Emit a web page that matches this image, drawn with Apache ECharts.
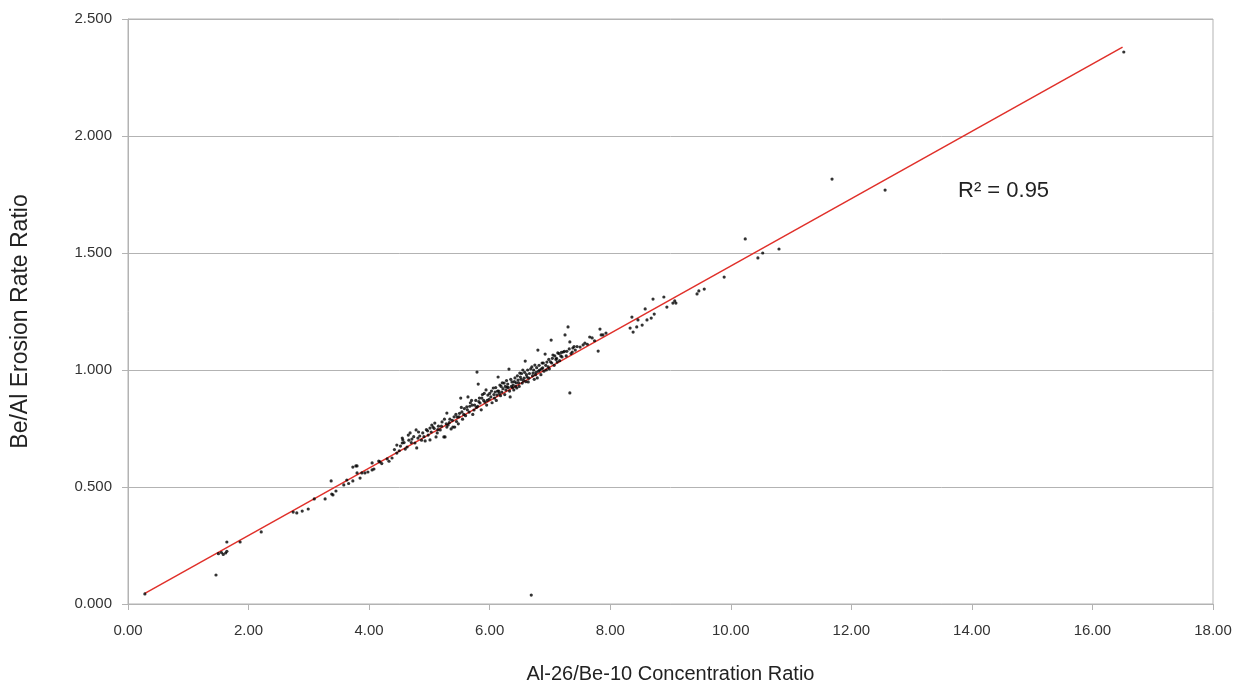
<!DOCTYPE html>
<html lang="en">

<head>
    <meta charset="UTF-8" />
    <title>Erosion ratio scatter</title>
    <script src="https://cdn.jsdelivr.net/npm/echarts@6.0.0/dist/echarts.min.js"></script>
</head>

<body style="margin:0; background:#fff;">
    <div id="main" style="width: 1246px; height: 686px;"></div>

    <script>
        // Al-26/Be-10 concentration ratio (x) and Be/Al erosion rate ratio (y)
        const alBeRatio = [
            0.28, 1.46, 1.50, 1.55, 1.58, 1.62, 1.64, 1.64, 1.86, 2.21,
            2.74, 2.80, 2.89, 2.99, 3.09, 3.27, 3.37, 3.38, 3.40, 3.45,
            3.58, 3.63, 3.66, 3.73, 3.73, 3.78, 3.80, 3.80, 3.85, 3.88,
            3.93, 3.98, 4.05, 4.05, 4.08, 4.16, 4.18, 4.21, 4.30, 4.33,
            4.38, 4.46, 4.46, 4.50, 4.55, 4.55, 4.56, 4.60, 4.63, 4.65,
            4.68, 4.70, 4.71, 4.76, 4.78, 4.79, 4.81, 4.84, 4.87, 4.89,
            4.93, 4.95, 4.98, 5.01, 5.01, 5.04, 5.06, 5.09, 5.11, 5.13,
            5.15, 5.18, 5.21, 5.24, 5.26, 5.28, 5.29, 5.29, 5.31, 5.34,
            5.36, 5.39, 5.41, 5.42, 5.45, 5.46, 5.48, 5.50, 5.52, 5.54,
            5.55, 5.58, 5.60, 5.62, 5.64, 5.66, 5.68, 5.71, 5.72, 5.74,
            5.77, 5.79, 5.80, 5.81, 5.83, 5.84, 5.86, 5.88, 5.90, 5.92,
            5.94, 5.95, 5.97, 5.99, 6.02, 6.04, 6.06, 6.08, 6.09, 6.11,
            6.12, 6.14, 6.15, 6.17, 6.18, 6.20, 6.22, 6.24, 6.25, 6.27,
            6.29, 6.30, 6.32, 6.33, 6.34, 6.36, 6.37, 6.39, 6.40, 6.42,
            6.44, 6.45, 6.47, 6.49, 6.50, 6.52, 6.54, 6.55, 6.57, 6.59,
            6.60, 6.62, 6.64, 6.66, 6.69, 6.70, 6.71, 6.72, 6.74, 6.75,
            6.77, 6.79, 6.80, 6.81, 6.83, 6.85, 6.87, 6.88, 6.90, 6.92,
            6.93, 6.95, 6.97, 6.99, 7.02, 7.03, 7.05, 7.07, 7.10, 7.12,
            7.13, 7.16, 7.18, 7.20, 7.22, 7.25, 7.27, 7.30, 7.32, 7.33,
            7.33, 7.35, 7.37, 7.38, 7.42, 7.45, 7.50, 7.55, 7.58, 7.62,
            7.66, 7.70, 7.74, 7.80, 7.83, 7.85, 7.88, 7.93, 8.33, 8.36,
            8.38, 8.44, 8.46, 8.53, 8.58, 8.61, 8.68, 8.71, 8.73, 8.89,
            8.94, 9.04, 9.07, 9.09, 9.44, 9.47, 9.56, 9.89, 10.24, 10.45,
            10.53, 10.80, 11.68, 12.56, 16.52,
            // dense band
            4.42, 4.52, 4.58, 4.66, 4.74, 4.82, 4.91, 4.97, 5.03, 5.08,
            5.14, 5.20, 5.25, 5.33, 5.38, 5.44, 5.49, 5.53, 5.57, 5.63,
            5.67, 5.70, 5.75, 5.78, 5.82, 5.87, 5.91, 5.96, 6.00, 6.03,
            6.07, 6.10, 6.13, 6.16, 6.19, 6.21, 6.26, 6.28, 6.31, 6.35,
            6.38, 6.41, 6.43, 6.46, 6.48, 6.51, 6.53, 6.56, 6.58, 6.61,
            6.63, 6.65, 6.68, 6.73, 6.76, 6.78, 6.82, 6.86, 6.89, 6.94,
            6.98, 7.01, 7.04, 7.08, 7.11, 7.15, 7.19, 7.24, 7.28, 7.40
        ];
        const erosionRatio = [
            0.043, 0.124, 0.215, 0.220, 0.212, 0.218, 0.225, 0.265, 0.265, 0.308,
            0.393, 0.389, 0.397, 0.406, 0.449, 0.449, 0.526, 0.470, 0.466, 0.483,
            0.509, 0.530, 0.515, 0.526, 0.585, 0.590, 0.590, 0.560, 0.538, 0.560,
            0.560, 0.564, 0.573, 0.603, 0.577, 0.611, 0.607, 0.600, 0.620, 0.610,
            0.624, 0.645, 0.679, 0.655, 0.688, 0.709, 0.701, 0.662, 0.671, 0.722,
            0.731, 0.690, 0.705, 0.688, 0.744, 0.667, 0.709, 0.718, 0.700, 0.731,
            0.697, 0.745, 0.722, 0.701, 0.752, 0.765, 0.756, 0.773, 0.714, 0.731,
            0.760, 0.744, 0.778, 0.714, 0.714, 0.770, 0.756, 0.816, 0.765, 0.790,
            0.748, 0.756, 0.800, 0.756, 0.780, 0.799, 0.770, 0.815, 0.880, 0.821,
            0.790, 0.835, 0.805, 0.842, 0.885, 0.820, 0.860, 0.850, 0.810, 0.829,
            0.870, 0.991, 0.845, 0.940, 0.880, 0.859, 0.830, 0.895, 0.870, 0.863,
            0.915, 0.850, 0.893, 0.875, 0.885, 0.860, 0.923, 0.880, 0.906, 0.870,
            0.893, 0.970, 0.910, 0.936, 0.890, 0.906, 0.920, 0.944, 0.895, 0.915,
            0.927, 0.940, 1.004, 0.910, 0.885, 0.930, 0.949, 0.936, 0.915, 0.966,
            0.945, 0.923, 0.957, 0.930, 0.987, 0.960, 0.944, 1.000, 0.965, 1.038,
            0.950, 0.970, 0.949, 0.985, 0.038, 1.013, 0.975, 0.987, 0.960, 1.021,
            0.990, 0.966, 1.085, 0.995, 1.000, 0.980, 1.030, 1.009, 0.995, 1.068,
            1.020, 1.034, 1.013, 1.005, 1.128, 1.030, 1.064, 1.020, 1.045, 1.034,
            1.073, 1.040, 1.060, 1.056, 1.077, 1.150, 1.060, 1.184, 1.090, 0.902,
            1.120, 1.070, 1.077, 1.094, 1.085, 1.100, 1.098, 1.107, 1.115, 1.110,
            1.141, 1.137, 1.125, 1.081, 1.175, 1.150, 1.150, 1.158, 1.179, 1.226,
            1.162, 1.184, 1.214, 1.192, 1.261, 1.214, 1.222, 1.303, 1.239, 1.312,
            1.269, 1.286, 1.295, 1.286, 1.325, 1.338, 1.346, 1.397, 1.560, 1.479,
            1.500, 1.517, 1.816, 1.769, 2.359,
            // dense band
            0.660, 0.675, 0.690, 0.700, 0.715, 0.735, 0.715, 0.740, 0.735, 0.750,
            0.745, 0.760, 0.790, 0.775, 0.785, 0.810, 0.800, 0.840, 0.810, 0.830,
            0.845, 0.870, 0.850, 0.840, 0.865, 0.880, 0.900, 0.870, 0.900, 0.910,
            0.895, 0.925, 0.910, 0.900, 0.930, 0.945, 0.930, 0.955, 0.925, 0.960,
            0.925, 0.950, 0.930, 0.975, 0.945, 0.970, 0.985, 0.955, 0.990, 0.980,
            1.000, 0.965, 1.005, 1.000, 0.980, 1.010, 1.020, 1.005, 1.030, 1.000,
            1.045, 1.035, 1.050, 1.060, 1.050, 1.070, 1.075, 1.080, 1.080, 1.100
        ];

        // linear trend line end points
        const trendX = [0.28, 16.5];
        const trendY = [0.045, 2.38];

        const xTicks = { min: 0, max: 18, interval: 2 };
        const yTicks = { min: 0, max: 2.5, interval: 0.5 };

        const points = alBeRatio.map((x, i) => [x, erosionRatio[i]]);
        const trend = trendX.map((x, i) => [x, trendY[i]]);

        const axisGrey = '#b3b3b3';
        const font = 'Liberation Sans, Arial, sans-serif';

        const myChart = echarts.init(document.getElementById('main'));

        const options = {
            animation: false,
            backgroundColor: '#ffffff',
            grid: {
                left: 128, right: 33, top: 19, bottom: 82,
                outerBoundsMode: 'none',
                containLabel: false,
                show: true, borderColor: axisGrey, borderWidth: 1
            },
            xAxis: {
                type: 'value',
                min: xTicks.min, max: xTicks.max, interval: xTicks.interval,
                name: 'Al-26/Be-10 Concentration Ratio',
                nameLocation: 'middle',
                nameGap: 60,
                nameTextStyle: { fontFamily: font, fontSize: 20, color: '#222' },
                axisLine: { lineStyle: { color: axisGrey } },
                axisTick: { show: true, length: 6, lineStyle: { color: axisGrey } },
                splitLine: { show: false },
                axisLabel: {
                    fontFamily: font, fontSize: 15, color: '#333', margin: 19,
                    formatter: v => v.toFixed(2)
                }
            },
            yAxis: {
                type: 'value',
                min: yTicks.min, max: yTicks.max, interval: yTicks.interval,
                name: 'Be/Al Erosion Rate Ratio',
                nameLocation: 'middle',
                nameGap: 96,
                nameTextStyle: { fontFamily: font, fontSize: 23, color: '#222', padding: [0, 20, 0, 0] },
                axisLine: { show: true, lineStyle: { color: axisGrey } },
                axisTick: { show: true, length: 6, lineStyle: { color: axisGrey } },
                splitLine: { show: true, lineStyle: { color: axisGrey } },
                axisLabel: {
                    fontFamily: font, fontSize: 15, color: '#333', margin: 16,
                    formatter: v => v.toFixed(3)
                }
            },
            graphic: [{
                type: 'text',
                left: 958, top: 180,
                style: { text: 'R² = 0.95', fontFamily: font, fontSize: 22, fill: '#222' }
            }],
            series: [
                {
                    name: 'trend',
                    type: 'line',
                    data: trend,
                    symbol: 'none',
                    lineStyle: { color: '#e0302a', width: 1.5 },
                    z: 3
                },
                {
                    name: 'samples',
                    type: 'scatter',
                    data: points,
                    symbol: 'circle',
                    symbolSize: 3.2,
                    itemStyle: { color: '#000' },
                    z: 4
                }
            ]
        };

        myChart.setOption(options);
    </script>
</body>

</html>
